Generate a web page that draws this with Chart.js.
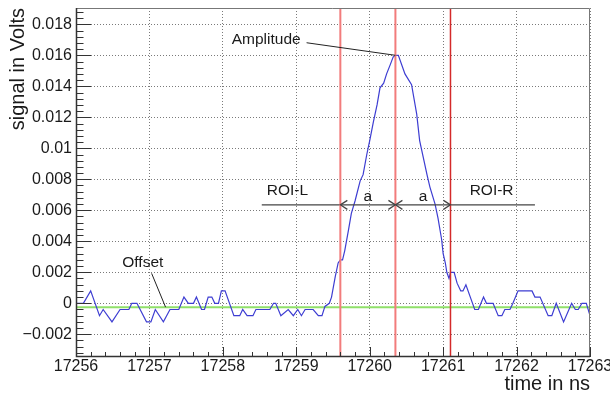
<!DOCTYPE html>
<html>
<head>
<meta charset="utf-8">
<title>signal vs time</title>
<script src="https://cdn.jsdelivr.net/npm/chart.js@4/dist/chart.umd.min.js"></script>
<style>
  html, body { margin: 0; padding: 0; background: #fff; }
  canvas { display: block; }
</style>
</head>
<body>
<canvas id="waveChart" width="610" height="396"></canvas>
<script>
// sampled waveform (time in ns, signal in V)
const times = [
  17256.00, 17256.10, 17256.20, 17256.32, 17256.37, 17256.49, 17256.60, 17256.72, 17256.76, 17256.83,
  17256.96, 17257.02, 17257.08, 17257.19, 17257.28, 17257.40, 17257.47, 17257.53, 17257.60, 17257.64,
  17257.71, 17257.75, 17257.80, 17257.85, 17257.89, 17257.94, 17257.98, 17258.03, 17258.15, 17258.23,
  17258.27, 17258.33, 17258.41, 17258.45, 17258.64, 17258.69, 17258.72, 17258.79, 17258.89, 17258.96,
  17259.02, 17259.07, 17259.12, 17259.23, 17259.30, 17259.35, 17259.39, 17259.45, 17259.48, 17259.53,
  17259.57, 17259.60, 17259.63, 17259.66, 17259.71, 17259.75, 17259.80, 17259.87, 17259.91, 17259.96,
  17260.00, 17260.05, 17260.10, 17260.14, 17260.19, 17260.23, 17260.28, 17260.32, 17260.36, 17260.39,
  17260.48, 17260.57, 17260.64, 17260.68, 17260.73, 17260.78, 17260.82, 17260.89, 17260.93, 17260.98,
  17261.00, 17261.03, 17261.05, 17261.08, 17261.10, 17261.15, 17261.19, 17261.24, 17261.27, 17261.31,
  17261.37, 17261.43, 17261.48, 17261.55, 17261.59, 17261.68, 17261.75, 17261.80, 17261.84, 17261.91,
  17261.95, 17262.02, 17262.21, 17262.25, 17262.32, 17262.43, 17262.48, 17262.54, 17262.64, 17262.75,
  17262.80, 17262.84, 17262.89, 17262.95, 17263.00
];
const volts = [
  0, 0, 0.0008, -0.0008, -0.0004, -0.0012, -0.0004, -0.0004, 0, 0,
  -0.0012, -0.0012, -0.0004, -0.0012, -0.0004, -0.0004, 0.0004, 0, 0, 0.0004,
  -0.0004, -0.0004, 0.0004, 0.0004, 0, 0, 0.0008, 0.0008, -0.0008, -0.0008,
  -0.0004, -0.0008, -0.0008, -0.0004, -0.0004, 0, 0, -0.0008, -0.0004, -0.0008,
  -0.0004, -0.0008, -0.0004, -0.0004, -0.0008, -0.0008, -0.0002, 0, 0.0004, 0.0017,
  0.0026, 0.0028, 0.0028, 0.0034, 0.0047, 0.0058, 0.0066, 0.0079, 0.0083, 0.0096,
  0.0105, 0.0117, 0.0128, 0.0139, 0.0142, 0.0148, 0.0154, 0.0159, 0.0160, 0.0160,
  0.0148, 0.0141, 0.0122, 0.0105, 0.0094, 0.0083, 0.0075, 0.0064, 0.0055, 0.0041,
  0.0032, 0.0026, 0.0020, 0.0016, 0.0020, 0.0020, 0.0013, 0.0008, 0.0008, 0.0012,
  0.0004, -0.0004, -0.0004, 0.0004, 0, 0, -0.0008, -0.0008, -0.0004, -0.0004,
  0, 0.0008, 0.0008, 0.0004, 0.0004, -0.0008, -0.0008, 0, -0.0012, 0,
  -0.0004, -0.0004, 0, 0, -0.0008
];

const xTicks = [17256, 17257, 17258, 17259, 17260, 17261, 17262, 17263];
const yTicks = [-0.002, 0, 0.002, 0.004, 0.006, 0.008, 0.01, 0.012, 0.014, 0.016, 0.018];
const yTickLabels = ["\u22120.002", "0", "0.002", "0.004", "0.006", "0.008", "0.01", "0.012", "0.014", "0.016", "0.018"];

// analysis results
const offsetLevel = -0.00025;
const peakTime = 17260.35;
const peakAmplitude = 0.0160;
const roiWidth = 0.75;
const roiLeft = peakTime - roiWidth;
const roiRight = peakTime + roiWidth;
const arrowLevel = 0.00635;
const arrowSpan = [17258.53, 17262.25];

const X_MIN = 17256, X_MAX = 17263;
const Y_MIN = -0.003465, Y_MAX = 0.019052;

const FONT = '"Liberation Sans", Arial, Helvetica, sans-serif';
const INK = "#1a1a1a";

const pts = (xs, ys) => xs.map((x, i) => ({ x, y: ys[i] }));
const vline = (t) => [{ x: t, y: Y_MIN }, { x: t, y: Y_MAX }];

// frame, ROOT style inward ticks, arrows and text labels
const decorations = {
  id: "decorations",
  afterDatasetsDraw(chart) {
    const { ctx, chartArea: a, scales: { x, y } } = chart;
    ctx.save();

    // frame
    ctx.lineWidth = 1;
    ctx.strokeStyle = "#777";
    ctx.beginPath();
    ctx.moveTo(a.left, a.top + 0.5);
    ctx.lineTo(a.right - 0.5, a.top + 0.5);
    ctx.lineTo(a.right - 0.5, a.bottom);
    ctx.stroke();
    ctx.strokeStyle = "#333";
    ctx.lineWidth = 1.5;
    ctx.beginPath();
    ctx.moveTo(a.left + 0.5, a.top);
    ctx.lineTo(a.left + 0.5, a.bottom - 0.5);
    ctx.lineTo(a.right, a.bottom - 0.5);
    ctx.stroke();

    // ticks
    ctx.lineWidth = 1;
    ctx.strokeStyle = "#333";
    ctx.beginPath();
    const xStep = (xTicks[1] - xTicks[0]) / 5;
    for (let v = X_MIN; v <= X_MAX + 1e-9; v += xStep) {
      const px = Math.round(x.getPixelForValue(v)) + 0.5;
      const major = Math.abs(v - Math.round(v)) < 1e-6;
      ctx.moveTo(px, a.bottom);
      ctx.lineTo(px, a.bottom - (major ? 10 : 5));
    }
    const yStep = (yTicks[1] - yTicks[0]) / 5;
    const kStart = Math.ceil(Y_MIN / yStep - 1e-6);
    const kEnd = Math.floor(Y_MAX / yStep + 1e-6);
    for (let k = kStart; k <= kEnd; k++) {
      const v = k * yStep;
      const py = Math.round(y.getPixelForValue(v)) + 0.5;
      const major = k % 5 === 0;
      ctx.moveTo(a.left, py);
      ctx.lineTo(a.left + (major ? 15 : 7.5), py);
    }
    ctx.stroke();

    // ROI arrows
    const ay = y.getPixelForValue(arrowLevel);
    const head = (t, dir) => {
      const px = x.getPixelForValue(t);
      ctx.moveTo(px - dir * 7, ay - 4.5);
      ctx.lineTo(px, ay);
      ctx.lineTo(px - dir * 7, ay + 4.5);
    };
    ctx.strokeStyle = "#444";
    ctx.lineWidth = 1.2;
    ctx.beginPath();
    head(roiLeft, -1);
    head(peakTime, 1);
    head(peakTime, -1);
    head(roiRight, 1);
    ctx.stroke();

    // pointer lines for amplitude and offset
    ctx.strokeStyle = "#222";
    ctx.lineWidth = 1;
    ctx.beginPath();
    ctx.moveTo(x.getPixelForValue(17259.14), y.getPixelForValue(0.01681));
    ctx.lineTo(x.getPixelForValue(peakTime), y.getPixelForValue(peakAmplitude));
    ctx.moveTo(x.getPixelForValue(17257.03), y.getPixelForValue(0.00193));
    ctx.lineTo(x.getPixelForValue(17257.22), y.getPixelForValue(offsetLevel));
    ctx.stroke();

    // labels
    ctx.fillStyle = INK;
    ctx.font = "15.5px " + FONT;
    ctx.textAlign = "center";
    ctx.textBaseline = "middle";
    const label = (text, t, v) => ctx.fillText(text, x.getPixelForValue(t), y.getPixelForValue(v));
    label("Amplitude", 17258.59, 0.01703);
    label("Offset", 17256.91, 0.00264);
    label("ROI-L", 17258.88, 0.00726);
    label("ROI-R", 17261.66, 0.00726);
    label("a", (roiLeft + peakTime) / 2, 0.00686);
    label("a", (peakTime + roiRight) / 2, 0.00686);

    ctx.restore();
  },
};

const axisFont = { family: FONT, size: 16 };
const titleFont = { family: FONT, size: 20 };

new Chart(document.getElementById("waveChart"), {
  type: "scatter",
  data: {
    datasets: [
      {
        label: "ROI-L",
        data: vline(roiLeft),
        showLine: true,
        borderColor: "#f27c7c",
        borderWidth: 2,
        pointRadius: 0,
        order: 1,
      },
      {
        label: "peak",
        data: vline(peakTime),
        showLine: true,
        borderColor: "#f27c7c",
        borderWidth: 2,
        pointRadius: 0,
        order: 1,
      },
      {
        label: "ROI-R",
        data: vline(roiRight),
        showLine: true,
        borderColor: "#d42a2a",
        borderWidth: 1.5,
        pointRadius: 0,
        order: 1,
      },
      {
        label: "ROI span",
        data: pts(arrowSpan, [arrowLevel, arrowLevel]),
        showLine: true,
        borderColor: "#444",
        borderWidth: 1.2,
        pointRadius: 0,
        order: 2,
      },
      {
        label: "signal",
        data: pts(times, volts),
        showLine: true,
        borderColor: "#3d3dd2",
        borderWidth: 1.2,
        pointRadius: 0,
        tension: 0,
        order: 3,
      },
      {
        label: "offset",
        data: pts([X_MIN, X_MAX], [offsetLevel, offsetLevel]),
        showLine: true,
        borderColor: "#90e06a",
        borderWidth: 2,
        pointRadius: 0,
        order: 4,
      },
    ],
  },
  options: {
    responsive: false,
    devicePixelRatio: 1,
    animation: false,
    layout: { padding: { top: 8, right: 20, left: 0, bottom: 0 } },
    plugins: { legend: { display: false }, tooltip: { enabled: false } },
    scales: {
      x: {
        type: "linear",
        min: X_MIN,
        max: X_MAX,
        afterBuildTicks: (scale) => {
          scale.ticks = xTicks.map((v) => ({ value: v }));
        },
        afterFit: (scale) => {
          scale.height = 39;
          scale.paddingLeft = 0;
          scale.paddingRight = 0;
        },
        ticks: {
          autoSkip: false,
          maxRotation: 0,
          padding: 0,
          color: INK,
          font: axisFont,
          callback: (v) => String(v),
        },
        grid: { color: "#7a7a7a", lineWidth: 1, drawTicks: false },
        border: { display: false, dash: [1, 2] },
        title: {
          display: true,
          text: "time in ns",
          align: "end",
          color: INK,
          font: titleFont,
          padding: { top: 0, bottom: 0 },
        },
      },
      y: {
        type: "linear",
        min: Y_MIN,
        max: Y_MAX,
        afterBuildTicks: (scale) => {
          scale.ticks = yTicks.map((v) => ({ value: v }));
        },
        afterFit: (scale) => {
          scale.width = 76;
          scale.paddingTop = 0;
          scale.paddingBottom = 0;
        },
        ticks: {
          padding: 4,
          color: INK,
          font: axisFont,
          callback: (v, i) => yTickLabels[i],
        },
        grid: { color: "#7a7a7a", lineWidth: 1, drawTicks: false },
        border: { display: false, dash: [1, 2] },
        title: {
          display: true,
          text: "signal in Volts",
          align: "end",
          color: INK,
          font: titleFont,
          padding: { top: 6, bottom: 0 },
        },
      },
    },
  },
  plugins: [decorations],
});
</script>
</body>
</html>
